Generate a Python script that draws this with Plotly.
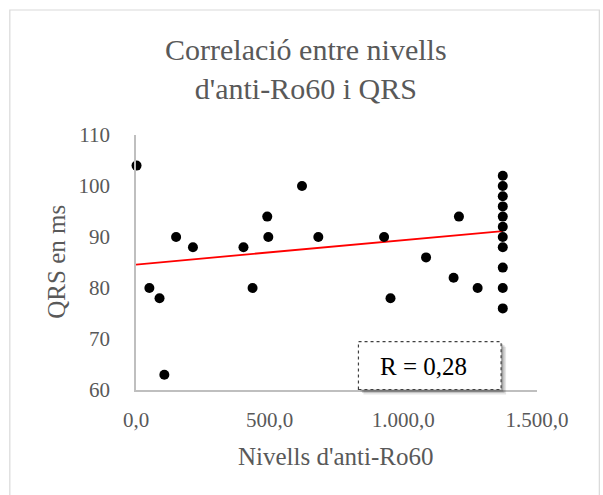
import plotly.graph_objects as go

# Anti-Ro60 levels and QRS duration (ms)
anti_ro60 = [2, 50, 88, 106, 150, 213, 402, 436, 491, 495, 621, 682,
             928, 952, 1085, 1188, 1208, 1278,
             1372, 1372, 1372, 1372, 1372, 1372, 1372, 1372, 1372, 1372, 1372]
qrs_ms = [104, 80, 78, 63, 90, 88, 88, 80, 94, 90, 100, 90,
          90, 78, 86, 82, 94, 80,
          102, 100, 98, 96, 94, 92, 90, 88, 84, 80, 76]

# linear trend line (intercept, slope) and its correlation label
trend_intercept = 84.6
trend_slope = 0.00478
r_label = "R = 0,28"

x_tickvals = [0, 500, 1000, 1500]
x_ticktext = ["0,0", "500,0", "1.000,0", "1.500,0"]
y_tickvals = [60, 70, 80, 90, 100, 110]
y_ticktext = ["60", "70", "80", "90", "100", "110"]

W, H = 603, 495
L, R_EDGE, T, B = 135.5, 537.5, 134.5, 390.5


def px(xp):
    return (xp - L) / (R_EDGE - L)


def py(yp):
    return (B - yp) / (B - T)


x_fit = [0, max(anti_ro60)]
y_fit = [trend_intercept + trend_slope * v for v in x_fit]

GREY = "#595959"
FONT = "Liberation Serif"

fig = go.Figure()
fig.add_trace(go.Scatter(x=x_fit, y=y_fit, mode="lines",
                         line=dict(color="#ff0000", width=1.8),
                         hoverinfo="skip", showlegend=False))
fig.add_trace(go.Scatter(x=anti_ro60, y=qrs_ms, mode="markers",
                         marker=dict(color="black", size=10),
                         cliponaxis=False, showlegend=False))

shapes = [
    # outer chart border
    dict(type="rect", xref="paper", yref="paper",
         x0=px(9), x1=px(600), y0=py(497), y1=py(9),
         line=dict(color="#d9d9d9", width=1.2), layer="below"),
]
# soft shadow behind the R box
for off, op in [(5, 0.10), (3.5, 0.14), (2, 0.18)]:
    shapes.append(dict(type="rect", xref="paper", yref="paper",
                       x0=px(358.5 + off), x1=px(501.5 + off),
                       y0=py(390 + off), y1=py(342 + off),
                       line=dict(width=0), fillcolor="rgba(0,0,0,%s)" % op))
shapes.append(dict(type="rect", xref="paper", yref="paper",
                   x0=px(358.5), x1=px(501.5), y0=py(390), y1=py(342),
                   line=dict(color="#404040", width=1.2, dash="dot"),
                   fillcolor="white"))

annotations = [
    dict(text="Correlació entre nivells<br>d'anti-Ro60 i QRS",
         xref="paper", yref="paper", x=px(306), y=py(68),
         xanchor="center", yanchor="middle", showarrow=False,
         font=dict(family=FONT, size=30, color=GREY)),
    dict(text="Nivells d'anti-Ro60", xref="paper", yref="paper",
         x=px(335), y=py(457), xanchor="center", yanchor="middle",
         showarrow=False, font=dict(family=FONT, size=25, color=GREY)),
    dict(text="QRS en ms", xref="paper", yref="paper",
         x=px(55), y=py(262), xanchor="center", yanchor="middle",
         textangle=-90, showarrow=False,
         font=dict(family=FONT, size=25, color=GREY)),
    dict(text=r_label, xref="paper", yref="paper",
         x=px(424), y=py(367), xanchor="center", yanchor="middle",
         showarrow=False, font=dict(family=FONT, size=25, color="#000000")),
]

fig.update_layout(
    width=W, height=H,
    margin=dict(l=L, r=W - R_EDGE, t=T, b=H - B),
    paper_bgcolor="white", plot_bgcolor="white",
    shapes=shapes, annotations=annotations,
    font=dict(family=FONT, color=GREY),
)
fig.update_xaxes(range=[0, 1500], tickvals=x_tickvals, ticktext=x_ticktext,
                 showgrid=False, zeroline=False, showline=True,
                 linecolor="#bfbfbf", linewidth=1.6, ticks="",
                 ticklabelstandoff=10,
                 tickfont=dict(family=FONT, size=21, color=GREY))
fig.update_yaxes(range=[60, 110], tickvals=y_tickvals, ticktext=y_ticktext,
                 showgrid=False, zeroline=False, showline=True,
                 linecolor="#bfbfbf", linewidth=1.6, ticks="",
                 ticklabelstandoff=20,
                 tickfont=dict(family=FONT, size=21, color=GREY))

fig.write_html("out.html")
